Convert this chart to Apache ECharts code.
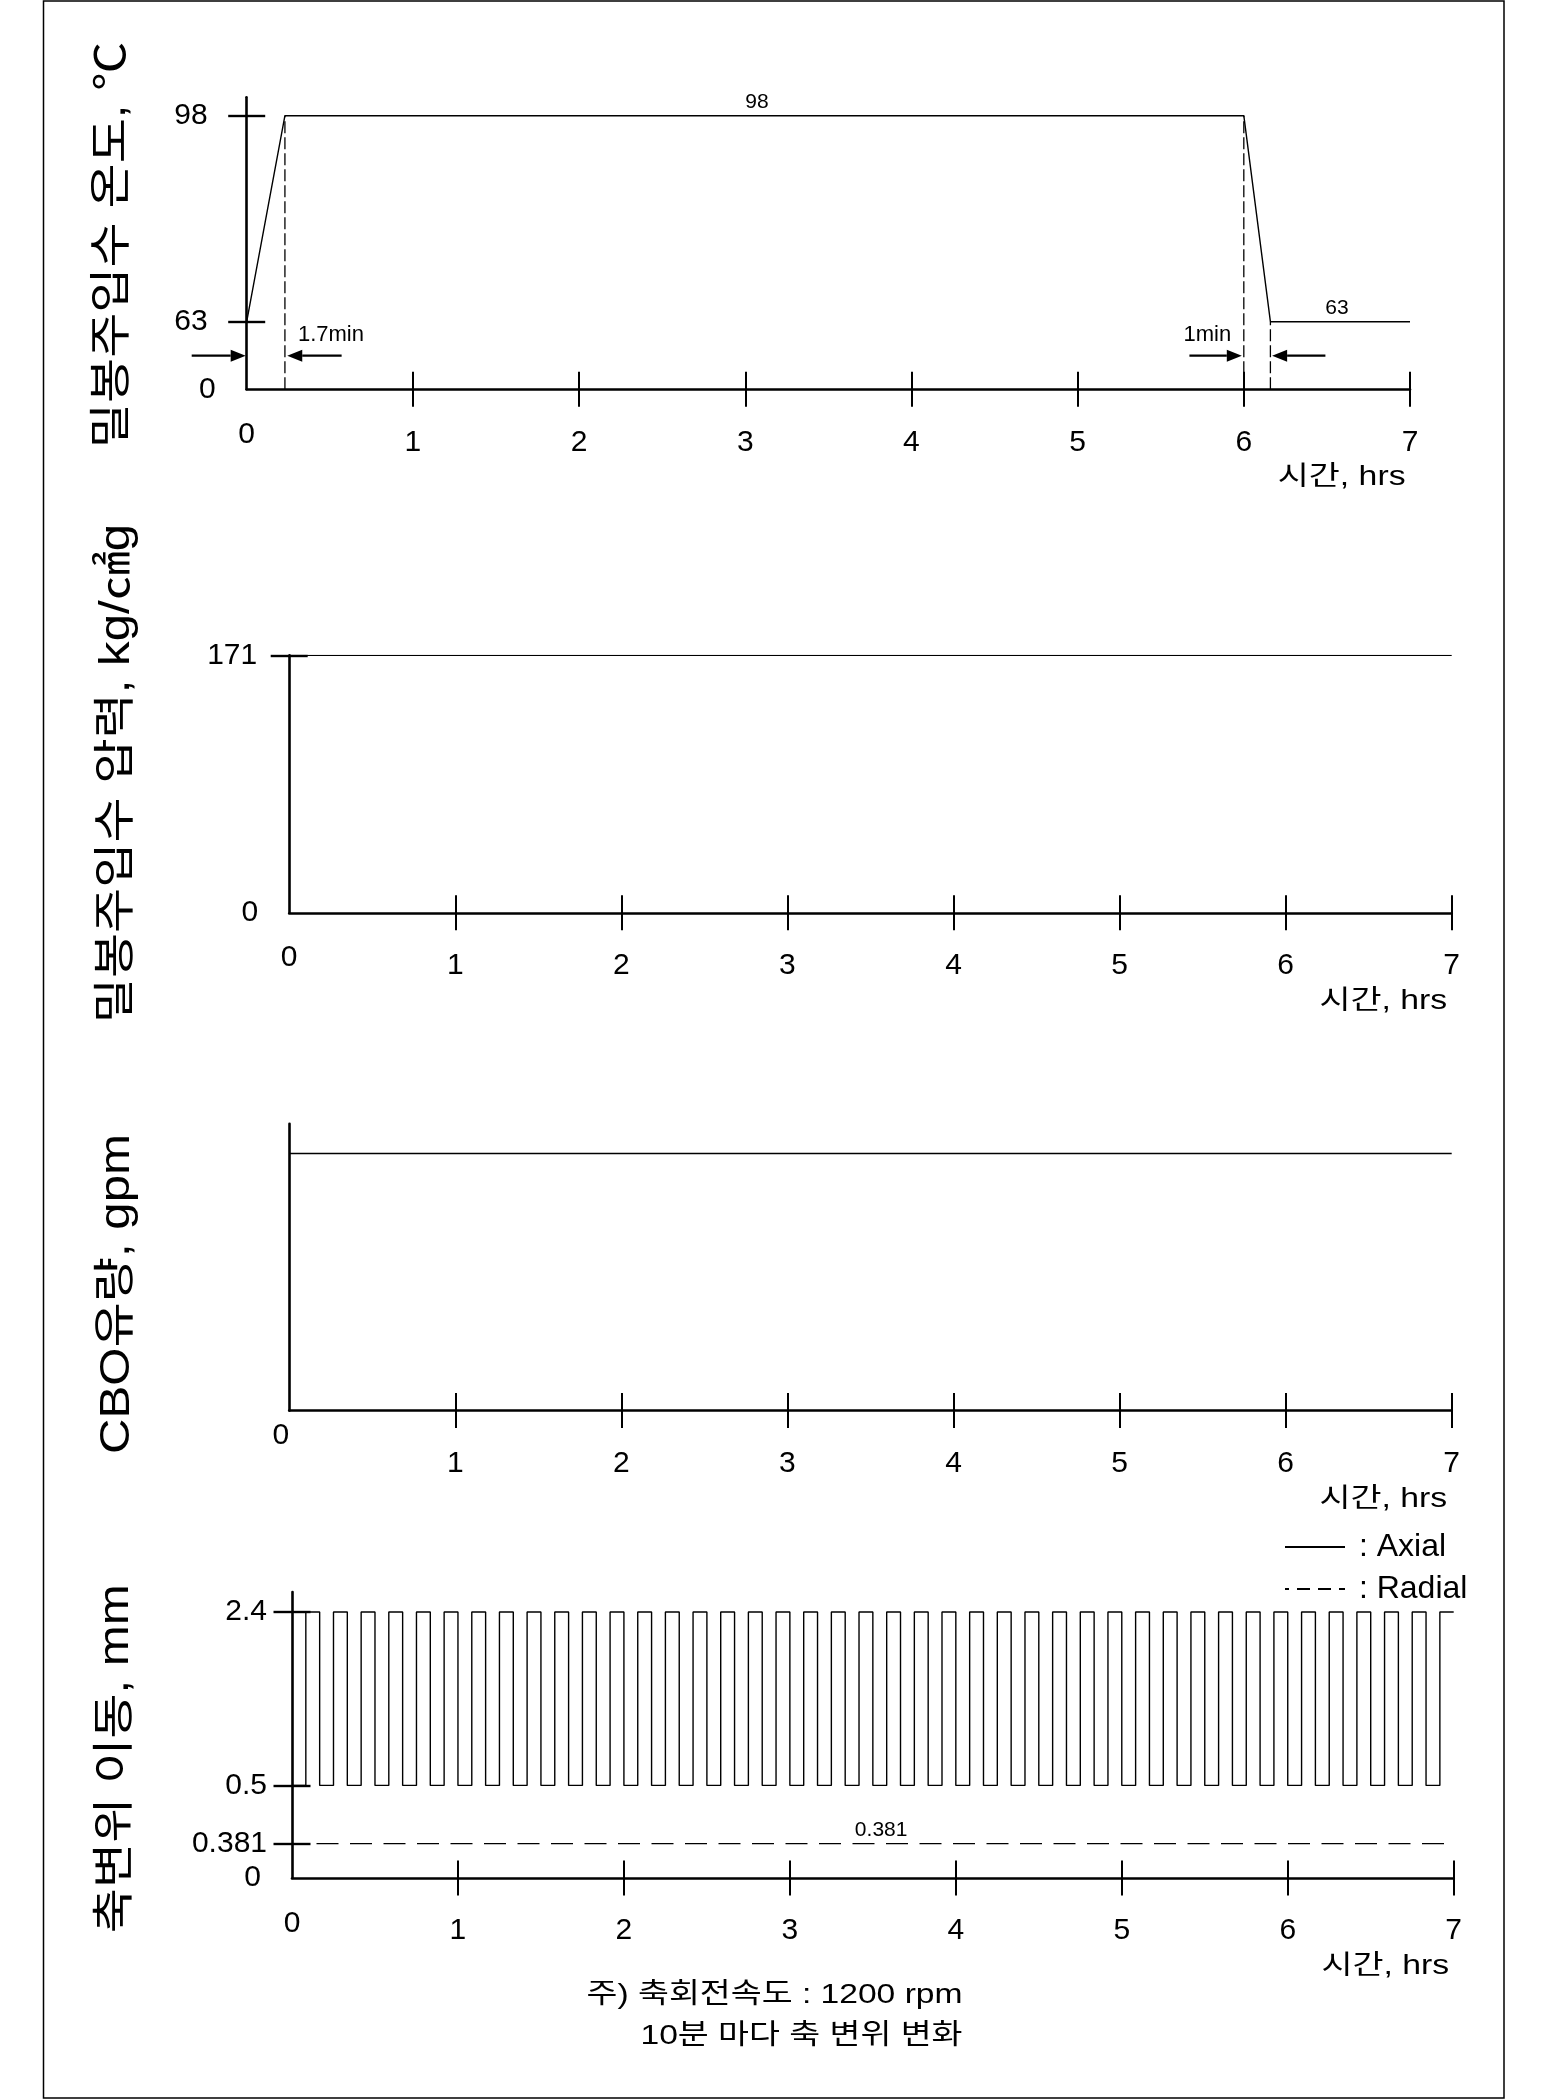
<!DOCTYPE html>
<html>
<head>
<meta charset="utf-8">
<script src="https://cdn.jsdelivr.net/npm/echarts@6/dist/echarts.min.js"></script>
<style>html,body{margin:0;padding:0;background:#fff}#c{width:1550px;height:2100px}</style>
</head>
<body>
<div id="c"></div>
<script>
// ================= DATA =================
const hourTicks = [0, 1, 2, 3, 4, 5, 6, 7];

// 1) seal injection water temperature, °C
const tempTimes  = [0, 0.23, 6.0, 6.16, 7.0];   // hrs
const tempValues = [63, 98, 98, 63, 63];         // °C
const tempTicks  = [63, 98];

// 2) seal injection water pressure, kg/㎠g
const pressTimes  = [0, 7];
const pressValues = [171, 171];
const pressTicks  = [171];

// 3) CBO flow, gpm (no value given – relative level)
const flowTimes  = [0, 7];
const flowValues = [1, 1];

// 4) shaft displacement, mm  (changes every 5 min, period 10 min)
const axialTimesMin = [0,5,10,15,20,25,30,35,40,45,50,55,60,65,70,75,80,85,90,95,100,105,110,115,120,125,130,135,140,145,150,155,160,165,170,175,180,185,190,195,200,205,210,215,220,225,230,235,240,245,250,255,260,265,270,275,280,285,290,295,300,305,310,315,320,325,330,335,340,345,350,355,360,365,370,375,380,385,390,395,400,405,410,415,420];
const axialValues = [0.5,2.4,0.5,2.4,0.5,2.4,0.5,2.4,0.5,2.4,0.5,2.4,0.5,2.4,0.5,2.4,0.5,2.4,0.5,2.4,0.5,2.4,0.5,2.4,0.5,2.4,0.5,2.4,0.5,2.4,0.5,2.4,0.5,2.4,0.5,2.4,0.5,2.4,0.5,2.4,0.5,2.4,0.5,2.4,0.5,2.4,0.5,2.4,0.5,2.4,0.5,2.4,0.5,2.4,0.5,2.4,0.5,2.4,0.5,2.4,0.5,2.4,0.5,2.4,0.5,2.4,0.5,2.4,0.5,2.4,0.5,2.4,0.5,2.4,0.5,2.4,0.5,2.4,0.5,2.4,0.5,2.4,0.5,2.4,2.4];
const radialTimes  = [0, 7];
const radialValues = [0.381, 0.381];
const shaftTicks   = [0.381, 0.5, 2.4];

// texts
const titles = ['밀봉주입수 온도, ℃', '밀봉주입수 압력, kg/㎠g', 'CBO유량, gpm', '축변위 이동, mm'];
const timeName = '시간, hrs';
const notes = ['주) 축회전속도 : 1200 rpm', '10분 마다 축 변위 변화'];
const seriesNames = ['Axial', 'Radial'];

// ============ broken (piecewise) axis scales ============
function makeScale(keys, pos) {
  return function (v) {
    for (let i = 0; i < keys.length - 1; i++) {
      if (v <= keys[i + 1] || i === keys.length - 2) {
        return pos[i] + (v - keys[i]) * (pos[i + 1] - pos[i]) / (keys[i + 1] - keys[i]);
      }
    }
    return pos[0];
  };
}
const T = makeScale([0, 63, 98], [0, 67.6, 273.6]);               // temperature axis
const S = makeScale([0, 0.381, 0.5, 2.4], [0, 34.4, 92.6, 266]);   // displacement axis
const ID = v => v;

// ================= STYLE =================
const FONT = "'Liberation Sans', 'Noto Sans CJK KR', sans-serif";
const BLACK = '#000';
const grids = [
  { left: 246.7, top: 97.3,  width: 1163.3, height: 292 },
  { left: 289.2, top: 655.4, width: 1162.5, height: 257.4 },
  { left: 289.2, top: 1123.7, width: 1162.5, height: 286.9 },
  { left: 292,   top: 1592,  width: 1161.7, height: 286 }
];
const yMax = [292, 171, 1.116, 286];

function xAxesFor(gi, zeroMargin, zeroAlign) {
  const inner = hourTicks.filter(h => h > 0);
  const common = { type: 'value', gridIndex: gi, min: 0, max: 7, position: 'bottom', splitLine: { show: false } };
  return [
    Object.assign({}, common, {
      axisLine: { show: true, onZero: false, lineStyle: { color: BLACK, width: 2.6 } },
      axisTick: { show: true, customValues: inner, length: 17.5, inside: false, lineStyle: { color: BLACK, width: 2 } },
      axisLabel: { show: true, customValues: inner, margin: 38, fontSize: 30, lineHeight: 30, color: BLACK, fontFamily: FONT }
    }),
    Object.assign({}, common, {
      axisLine: { show: false, onZero: false },
      axisTick: { show: true, customValues: inner, length: 17.5, inside: true, lineStyle: { color: BLACK, width: 2 } },
      axisLabel: { show: true, customValues: [0], margin: zeroMargin, align: zeroAlign, fontSize: 30, lineHeight: 30, color: BLACK, fontFamily: FONT }
    })
  ];
}

function yAxesFor(gi, scale, ticks, margin, zeroLabel) {
  const tv = ticks.map(scale);
  const fmt = v => { for (const t of ticks) { if (Math.abs(scale(t) - v) < 1e-6) return String(t); } return ''; };
  const common = { type: 'value', gridIndex: gi, min: 0, max: yMax[gi], position: 'left', splitLine: { show: false } };
  return [
    Object.assign({}, common, {
      axisLine: { show: true, onZero: false, lineStyle: { color: BLACK, width: 2.6 } },
      axisTick: { show: tv.length > 0, customValues: tv, length: 18.5, inside: false, lineStyle: { color: BLACK, width: 2.4 } },
      axisLabel: { show: tv.length > 0, customValues: tv, formatter: fmt, margin: margin, fontSize: 30, color: BLACK, fontFamily: FONT }
    }),
    Object.assign({}, common, {
      axisLine: { show: false, onZero: false },
      axisTick: { show: tv.length > 0, customValues: tv, length: 18.5, inside: true, lineStyle: { color: BLACK, width: 2.4 } },
      axisLabel: { show: zeroLabel, customValues: [0], formatter: () => '0', margin: 31, fontSize: 30, color: BLACK, fontFamily: FONT }
    })
  ];
}

const xAxis = [].concat(
  xAxesFor(0, 30, 'center'),
  xAxesFor(1, 30, 'center'),
  xAxesFor(2, 10.5, 'right'),
  xAxesFor(3, 31, 'center')
);
const yAxis = [].concat(
  yAxesFor(0, T, tempTicks, 39, true),
  yAxesFor(1, ID, pressTicks, 32, true),
  yAxesFor(2, ID, [], 30, false),
  yAxesFor(3, S, shaftTicks, 25, true)
);

function lineSeries(name, ax, data, style, extra) {
  return Object.assign({
    name: name, type: 'line', xAxisIndex: ax, yAxisIndex: ax, data: data,
    symbol: 'none', showSymbol: false, silent: true, animation: false,
    lineStyle: Object.assign({ color: BLACK, width: 1.4 }, style), itemStyle: { color: BLACK }
  }, extra || {});
}

const guideIdx = [1, 2, 3];
const series = [
  lineSeries('temp', 0, tempTimes.map((t, i) => [t, T(tempValues[i])]), {}),
  ...guideIdx.map(i => lineSeries('guide' + i, 0, [[tempTimes[i], T(0)], [tempTimes[i], T(tempValues[i])]], { type: [12, 4], width: 1.3 })),
  lineSeries('press', 2, pressTimes.map((t, i) => [t, pressValues[i]]), {}),
  lineSeries('flow', 4, flowTimes.map((t, i) => [t, flowValues[i]]), {}),
  lineSeries(seriesNames[0], 6, axialTimesMin.map((m, i) => [m / 60, S(axialValues[i])]), {}, { step: 'end' }),
  lineSeries(seriesNames[1], 6, radialTimes.map((t, i) => [t, S(radialValues[i])]), { type: [22, 11.5], dashOffset: 9 })
];

const hiddenSym = { color: 'rgba(0,0,0,0)', borderColor: 'rgba(0,0,0,0)', borderWidth: 0, opacity: 0 };
const option = {
  backgroundColor: '#fff',
  animation: false,
  grid: grids.map(g => Object.assign({ containLabel: false }, g)),
  xAxis: xAxis,
  yAxis: yAxis,
  legend: {
    show: true, orient: 'vertical', left: 1279, top: 1526, itemWidth: 60, itemHeight: 14, itemGap: 10,
    selectedMode: false, formatter: ' : {name}',
    itemStyle: hiddenSym,
    textStyle: { fontSize: 32, color: BLACK, fontFamily: FONT },
    data: [{ name: seriesNames[0], itemStyle: hiddenSym },
           { name: seriesNames[1], itemStyle: hiddenSym, lineStyle: { type: [13, 8] } }]
  },
  series: series
};

const chart = echarts.init(document.getElementById('c'), null, { renderer: 'canvas', width: 1550, height: 2100 });
chart.setOption(option);

// ============ annotations (text / arrows) ============
const P = (k, x, y) => chart.convertToPixel({ xAxisIndex: 2 * k, yAxisIndex: 2 * k }, [x, y]);
function txt(text, x, y, size, align, vAlign, extra) {
  return Object.assign({
    type: 'text', x: x, y: y, silent: true, z: 10,
    style: { text: text, fill: BLACK, fontSize: size, fontFamily: FONT, align: align, verticalAlign: vAlign }
  }, extra || {});
}
function arrow(xTail, xTip, y) {
  const d = Math.sign(xTip - xTail), head = 15, hw = 6;
  return [
    { type: 'line', silent: true, z: 10, shape: { x1: xTail, y1: y, x2: xTip - d * head, y2: y }, style: { stroke: BLACK, lineWidth: 2.2 } },
    { type: 'polygon', silent: true, z: 10, shape: { points: [[xTip, y], [xTip - d * head, y - hw], [xTip - d * head, y + hw]] }, style: { fill: BLACK } }
  ];
}

const g = [];
// frame
g.push({ type: 'rect', silent: true, z: 0, shape: { x: 43.5, y: 1, width: 1460.5, height: 2097 }, style: { fill: 'none', stroke: BLACK, lineWidth: 1.5 } });
// y-axis titles (rotated)
const titlePos = [[113, 245], [117, 773.6], [117, 1294], [116, 1758.7]];
titles.forEach((t, k) => g.push(txt(t, titlePos[k][0], titlePos[k][1], 42, 'center', 'middle', { rotation: Math.PI / 2, scaleX: 1.17 })));
// x-axis names
for (let k = 0; k < 4; k++) {
  const e = P(k, 7, 0);
  g.push(txt(timeName, e[0] - 4.5, e[1] + 88.5, 27, 'right', 'middle', { scaleX: 1.25 }));
}
// notes
g.push(txt(notes[0], 962.5, 1995.5, 28, 'right', 'middle', { scaleX: 1.2 }));
g.push(txt(notes[1], 962.5, 2035.8, 28, 'right', 'middle', { scaleX: 1.2 }));

// temperature chart annotations
const p98 = P(0, 3.07, T(98));
g.push(txt('98', p98[0], p98[1] - 13, 21, 'center', 'middle'));
const p63 = P(0, 6.56, T(63));
g.push(txt('63', p63[0], p63[1] - 13.5, 21, 'center', 'middle'));
const base = P(0, 0, 0);
const arrowY = base[1] - 33.6;
const x0 = P(0, tempTimes[0], 0)[0];
const x1 = P(0, tempTimes[1], 0)[0];
const x2 = P(0, tempTimes[2], 0)[0];
const x3 = P(0, tempTimes[3], 0)[0];
g.push(...arrow(x0 - 55, x0 - 1, arrowY));
g.push(...arrow(x1 + 56.7, x1 + 2.3, arrowY));
g.push(...arrow(x2 - 54.4, x2 - 2, arrowY));
g.push(...arrow(x3 + 55, x3 + 1.7, arrowY));
g.push(txt('1.7min', x1 + 13, arrowY - 20.7, 22, 'left', 'middle'));
g.push(txt('1min', x2 - 12.7, arrowY - 20.7, 22, 'right', 'middle'));

// displacement chart annotation
const pr = P(3, 3.55, S(radialValues[0]));
g.push(txt(String(radialValues[0]), pr[0], pr[1] - 13, 21, 'center', 'middle'));

chart.setOption({ graphic: g });
</script>
</body>
</html>
